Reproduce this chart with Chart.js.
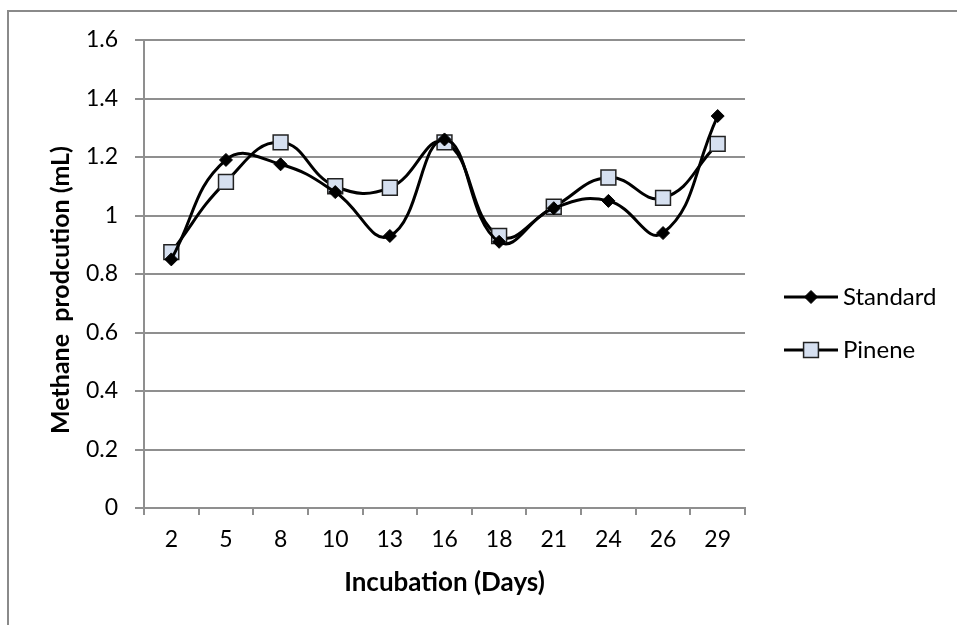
<!DOCTYPE html>
<html>
<head>
<meta charset="utf-8">
<script src="https://cdn.jsdelivr.net/npm/chart.js@4/dist/chart.umd.min.js"></script>
<style>
  html, body { margin: 0; padding: 0; background: #fff; }
  #wrap { width: 957px; height: 625px; }
</style>
</head>
<body>
<div id="wrap"><canvas id="methaneChart" width="957" height="625"></canvas></div>
<script>
// Incubation days (x-axis categories)
const days = ["2", "5", "8", "10", "13", "16", "18", "21", "24", "26", "29"];
// Methane production (mL) per treatment
const standard = [0.85, 1.19, 1.175, 1.08, 0.93, 1.26, 0.91, 1.025, 1.05, 0.94, 1.34];
const pinene = [0.875, 1.115, 1.25, 1.10, 1.095, 1.25, 0.93, 1.03, 1.13, 1.06, 1.245];

const fontFamily = "Lato, 'Open Sans', sans-serif";
const gridGray = "#8f8f8f";
const pineneFill = "#d6e0f0";
const yTitle = "Methane  prodcution (mL)";

// Draws the grey frame on the top and left edge of the canvas
const framePlugin = {
  id: "frame",
  beforeDraw(chart) {
    const ctx = chart.ctx;
    ctx.save();
    ctx.fillStyle = "#fff";
    ctx.fillRect(0, 0, chart.width, chart.height);
    ctx.strokeStyle = "#8a8a8a";
    ctx.lineWidth = 2;
    ctx.beginPath();
    ctx.moveTo(8, chart.height);
    ctx.lineTo(8, 11);
    ctx.lineTo(chart.width, 11);
    ctx.stroke();
    ctx.restore();
  },
};

// Rotated y-axis title, sitting a bit below the middle of the plot
const yTitlePlugin = {
  id: "yTitle",
  afterDraw(chart) {
    const ctx = chart.ctx;
    ctx.save();
    ctx.translate(61, 290);
    ctx.rotate(-Math.PI / 2);
    ctx.fillStyle = "#000";
    ctx.font = "bold 25px " + fontFamily;
    ctx.textAlign = "center";
    ctx.textBaseline = "middle";
    ctx.fillText(yTitle, 0, 0);
    ctx.restore();
  },
};

// Legend on the right: line with the series marker in the middle, then the name
const sideLegend = {
  id: "sideLegend",
  afterDraw(chart) {
    const ctx = chart.ctx;
    const x0 = 784;
    const x1 = 838;
    const rows = [297, 350];
    chart.data.datasets.forEach((ds, i) => {
      const y = rows[i];
      ctx.save();
      ctx.strokeStyle = ds.borderColor;
      ctx.lineWidth = ds.borderWidth;
      ctx.beginPath();
      ctx.moveTo(x0, y);
      ctx.lineTo(x1, y);
      ctx.stroke();
      ctx.fillStyle = ds.pointBackgroundColor;
      ctx.strokeStyle = ds.pointBorderColor;
      ctx.lineWidth = ds.pointBorderWidth;
      Chart.helpers.drawPoint(ctx, {
        pointStyle: ds.pointStyle,
        radius: ds.pointRadius,
        rotation: 0,
        borderWidth: ds.pointBorderWidth,
      }, (x0 + x1) / 2, y);
      ctx.fillStyle = "#000";
      ctx.font = "24px " + fontFamily;
      ctx.textAlign = "left";
      ctx.textBaseline = "middle";
      ctx.fillText(ds.label, x1 + 5, y);
      ctx.restore();
    });
  },
};

new Chart("methaneChart", {
  type: "line",
  data: {
    labels: days,
    datasets: [
      {
        label: "Standard",
        data: standard,
        borderColor: "#000",
        borderWidth: 3,
        tension: 0.45,
        pointStyle: "rectRot",
        pointRadius: 6.5,
        pointBackgroundColor: "#000",
        pointBorderColor: "#000",
        pointBorderWidth: 1,
        fill: false,
      },
      {
        label: "Pinene",
        data: pinene,
        borderColor: "#000",
        borderWidth: 3,
        tension: 0.45,
        pointStyle: "rect",
        pointRadius: 10.5,
        pointBackgroundColor: pineneFill,
        pointBorderColor: "#222",
        pointBorderWidth: 1.5,
        fill: false,
      },
    ],
  },
  options: {
    responsive: false,
    animation: false,
    layout: { padding: { top: 40, right: 212, bottom: 0, left: 0 } },
    plugins: {
      legend: { display: false },
      tooltip: { enabled: false },
    },
    scales: {
      x: {
        offset: true,
        afterFit: (scale) => { scale.height = 117; },
        grid: {
          offset: true,
          drawOnChartArea: false,
          tickLength: 7,
          color: gridGray,
          lineWidth: 2,
        },
        border: { color: gridGray, width: 2 },
        ticks: {
          color: "#000",
          padding: 11,
          maxRotation: 0,
          font: { family: fontFamily, size: 23 },
        },
        title: {
          display: true,
          text: "Incubation (Days)",
          color: "#000",
          padding: { top: 0, bottom: 27 },
          font: { family: fontFamily, size: 26, weight: "bold" },
        },
      },
      y: {
        min: 0,
        max: 1.6,
        afterFit: (scale) => { scale.width = 144; },
        grid: {
          color: gridGray,
          lineWidth: 2,
          tickLength: 9,
        },
        border: { color: gridGray, width: 2 },
        ticks: {
          stepSize: 0.2,
          color: "#000",
          padding: 17,
          font: { family: fontFamily, size: 23 },
          callback: (value) => String(Number(value.toFixed(1))),
        },
      },
    },
  },
  plugins: [framePlugin, yTitlePlugin, sideLegend],
});
</script>
</body>
</html>
